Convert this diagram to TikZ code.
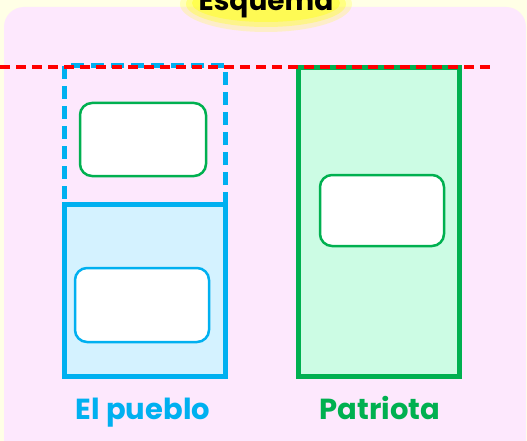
\documentclass[tikz,border=0pt]{standalone}
\usepackage{fontspec}
\setmainfont{Poppins}
\usetikzlibrary{positioning}
\usepackage{xcolor}
\definecolor{eqcream}{HTML}{FFFFE6}
\definecolor{eqpink}{HTML}{FDE8FD}
\definecolor{eqblue}{HTML}{00B0F0}
\definecolor{eqbluefill}{HTML}{D4F2FF}
\definecolor{eqgreen}{HTML}{00B050}
\definecolor{eqgreenfill}{HTML}{CCFCE4}
\definecolor{eqred}{HTML}{FF0000}
\definecolor{eqglow}{HTML}{FFFF30}

\begin{document}
\begin{tikzpicture}[x=1pt, y=-1pt]
      \useasboundingbox (0,0) rectangle (527,441);
      \fill[eqcream] (0,0) rectangle (527,441);
      \fill[eqpink, rounded corners=20pt] (4,7) rectangle (526,460);
      % title glow
      \fill[eqglow, opacity=0.25] (266,4) ellipse (86pt and 28pt);
      \fill[eqglow, opacity=0.4] (266,4) ellipse (80pt and 23pt);
      \fill[eqglow, opacity=0.6] (266,3) ellipse (74pt and 19pt);
      \node[font=\bfseries\fontsize{28}{28}\selectfont, anchor=base] (title) at (266,11) {Esquema};
      % columns
      \node[draw=eqblue, dash pattern=on 13pt off 7pt, line width=5pt,
            minimum width=161pt, minimum height=138pt] (ghost) at (144.5,135) {};
      \node[draw=eqblue, fill=eqbluefill, line width=5pt,
            minimum width=161pt, minimum height=172pt] (pueblo) at (144.5,290) {};
      \node[draw=eqgreen, fill=eqgreenfill, line width=5pt,
            minimum width=161pt, minimum height=308pt] (patriota) at (378.5,222) {};
      % inner cards
      \node[draw=eqgreen, fill=white, rounded corners=12pt, line width=2.5pt,
            minimum width=126pt, minimum height=73pt] (cardghost) at (143,139.5) {};
      \node[draw=eqblue, fill=white, rounded corners=12pt, line width=2.5pt,
            minimum width=134pt, minimum height=74pt] (cardpueblo) at (142,305) {};
      \node[draw=eqgreen, fill=white, rounded corners=12pt, line width=2.5pt,
            minimum width=124pt, minimum height=71pt] (cardpatriota) at (382,210.5) {};
      % level line
      \coordinate (levelL) at (0,67);
      \coordinate (levelR) at (492,67);
      \draw[eqred, line width=3.5pt, dash pattern=on 10pt off 6pt] (levelL) -- (levelR);
      % labels
      \node[text=eqblue, font=\bfseries\fontsize{29}{29}\selectfont, anchor=base] (lblpueblo) at (143,419) {El pueblo};
      \node[text=eqgreen, font=\bfseries\fontsize{29}{29}\selectfont, anchor=base] (lblpatriota) at (380,419) {Patriota};
    \end{tikzpicture}
\end{document}
